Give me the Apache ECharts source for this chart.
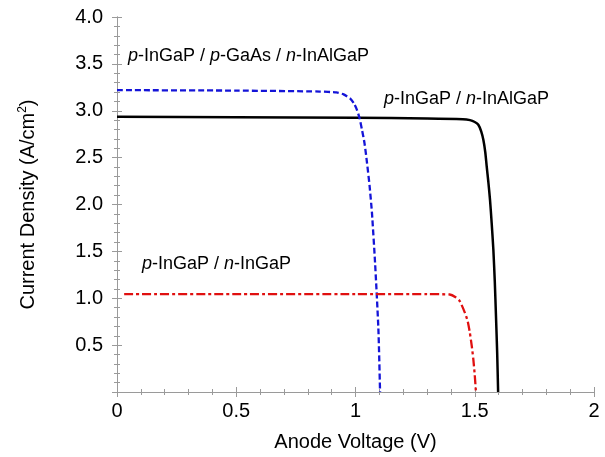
<!DOCTYPE html>
<html>
<head>
<meta charset="utf-8">
<script src="https://cdn.jsdelivr.net/npm/echarts@6/dist/echarts.min.js"></script>
<style>html,body{margin:0;padding:0;background:#fff;}#c{width:605px;height:457px;}</style>
</head>
<body>
<div id="c"></div>
<script>
// p-InGaP / n-InAlGaP (black solid)
const voltageBlack = [0, 0.5, 1.0, 1.3, 1.45, 1.48, 1.50, 1.515, 1.527, 1.536, 1.544, 1.55, 1.557, 1.564, 1.571, 1.578, 1.584, 1.589, 1.594, 1.598];
const currentBlack = [2.935, 2.93, 2.925, 2.918, 2.91, 2.90, 2.88, 2.85, 2.78, 2.69, 2.56, 2.41, 2.24, 2.05, 1.80, 1.52, 1.18, 0.81, 0.42, 0.0];
// p-InGaP / p-GaAs / n-InAlGaP (blue dashed)
const voltageBlue = [0, 0.5, 0.85, 0.92, 0.95, 0.978, 0.993, 1.006, 1.017, 1.027, 1.038, 1.048, 1.059, 1.069, 1.082, 1.096, 1.103];
const currentBlue = [3.22, 3.215, 3.205, 3.195, 3.175, 3.13, 3.08, 3.01, 2.92, 2.80, 2.65, 2.45, 2.20, 1.91, 1.38, 0.67, 0.0];
// p-InGaP / n-InGaP (red dash-dot)
const voltageRed = [0.03, 0.5, 1.0, 1.3, 1.395, 1.42, 1.437, 1.458, 1.47, 1.479, 1.487, 1.494, 1.5, 1.505];
const currentRed = [1.045, 1.045, 1.045, 1.044, 1.04, 1.01, 0.97, 0.85, 0.76, 0.64, 0.50, 0.35, 0.18, 0.0];

const xTicks = [0, 0.5, 1, 1.5, 2];
const yTicks = [0.5, 1.0, 1.5, 2.0, 2.5, 3.0, 3.5, 4.0];

const labels = [
  {pre: 'p', text1: '-InGaP / ', mid: 'p', text2: '-GaAs / ', post: 'n', text3: '-InAlGaP'},
  {pre: 'p', text1: '-InGaP / ', post: 'n', text3: '-InAlGaP'},
  {pre: 'p', text1: '-InGaP / ', post: 'n', text3: '-InGaP'}
];

function zip(a, b) { return a.map((v, i) => [v, b[i]]); }

const FONT = '"Liberation Sans", Arial, sans-serif';
const axisGrey = '#9a9a9a';

function richLabel(l) {
  let s = '{i|' + l.pre + '}{n|' + l.text1 + '}';
  if (l.mid) s += '{i|' + l.mid + '}{n|' + l.text2 + '}';
  s += '{i|' + l.post + '}{n|' + l.text3 + '}';
  return s;
}
const richStyle = {
  i: {fontStyle: 'italic', fontSize: 18, fontFamily: FONT, fill: '#000', color: '#000'},
  n: {fontSize: 18, fontFamily: FONT, fill: '#000', color: '#000'}
};

const chart = echarts.init(document.getElementById('c'), null, {renderer: 'canvas'});

const baseAxis = {
  type: 'value', min: 0,
  axisLine: {show: true, lineStyle: {color: axisGrey, width: 1}},
  axisTick: {show: true, inside: true, length: 5, lineStyle: {color: axisGrey}},
  minorTick: {show: true, splitNumber: 5, length: 3, lineStyle: {color: axisGrey}},
  splitLine: {show: false},
  minorSplitLine: {show: false}
};

chart.setOption({
  animation: false,
  backgroundColor: '#fff',
  grid: {left: 117, right: 11, top: 17, bottom: 64, containLabel: false},
  xAxis: [
    Object.assign({}, baseAxis, {
      max: 2, interval: 0.5, position: 'bottom',
      name: 'Anode Voltage (V)', nameLocation: 'middle', nameGap: 40,
      nameTextStyle: {fontSize: 20, fontFamily: FONT, color: '#000'},
      axisLabel: {show: true, fontSize: 20, fontFamily: FONT, color: '#000', margin: 9,
        formatter: v => xTicks.indexOf(v) >= 0 ? String(v) : ''}
    }),
    Object.assign({}, baseAxis, {
      max: 2, interval: 0.5, position: 'top', axisLabel: {show: false}
    })
  ],
  yAxis: [
    Object.assign({}, baseAxis, {
      max: 4, interval: 0.5, position: 'left',
      name: 'Current Density (A/cm{s|2})', nameLocation: 'middle', nameGap: 78,
      nameRotate: 90,
      nameTextStyle: {fontSize: 20, fontFamily: FONT, color: '#000',
        rich: {s: {fontSize: 12, fontFamily: FONT, color: '#000', verticalAlign: 'top', padding: [0, 0, 10, 0]}}},
      axisLabel: {show: true, fontSize: 20, fontFamily: FONT, color: '#000', margin: 14,
        formatter: v => { const t = yTicks.find(y => Math.abs(y - v) < 1e-9); return t === undefined ? '' : t.toFixed(1); }}
    }),
    Object.assign({}, baseAxis, {
      max: 4, interval: 0.5, position: 'right', axisLabel: {show: false}
    })
  ],
  series: [
    {type: 'line', name: 'p-InGaP / n-InAlGaP', data: zip(voltageBlack, currentBlack), showSymbol: false, smooth: 0.2,
      lineStyle: {color: '#000', width: 2.5, type: 'solid'}, z: 3},
    {type: 'line', name: 'p-InGaP / p-GaAs / n-InAlGaP', data: zip(voltageBlue, currentBlue), showSymbol: false, smooth: 0.2,
      lineStyle: {color: '#1414d8', width: 2.3, type: [6, 3]}, z: 4},
    {type: 'line', name: 'p-InGaP / n-InGaP', data: zip(voltageRed, currentRed), showSymbol: false, smooth: 0.2,
      lineStyle: {color: '#e01010', width: 2.3, type: [9, 3, 3, 3]}, z: 4}
  ],
  graphic: [
    {type: 'text', left: 128, top: 47, style: {text: richLabel(labels[0]), rich: richStyle, fill: '#000'}},
    {type: 'text', left: 384, top: 90, style: {text: richLabel(labels[1]), rich: richStyle, fill: '#000'}},
    {type: 'text', left: 142, top: 255, style: {text: richLabel(labels[2]), rich: richStyle, fill: '#000'}}
  ]
});
</script>
</body>
</html>
